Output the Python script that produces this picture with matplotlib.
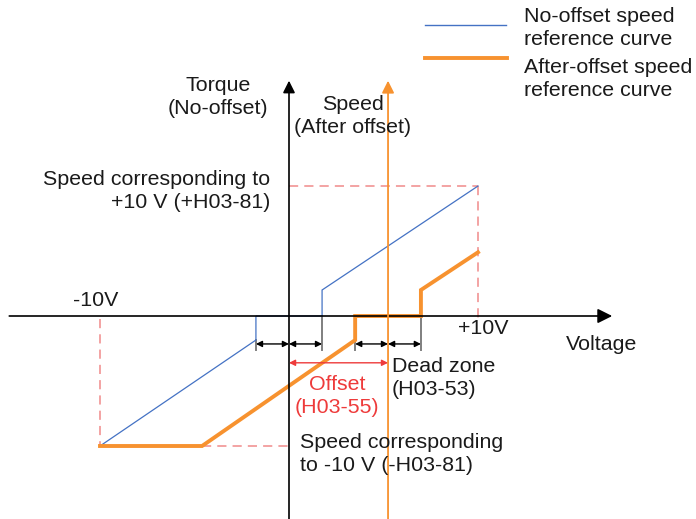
import matplotlib.pyplot as plt

plt.rcParams['font.family'] = ['Liberation Sans', 'DejaVu Sans']

# pixel size of the picture and where the axes cross
W, H = 696, 519
X0, Y0 = 289, 316          # 0 V / zero speed in pixels
PX_PER_V = 18.9            # pixels per volt
PX_PER_S = 130.0           # pixels per unit speed

# curves (voltage, relative speed)
blue_v = [-10, -1.75, -1.75, 1.75, 1.75, 10]
blue_s = [-1, -0.185, 0, 0, 0.2, 1]
orange_v = [-10, -4.6, 3.5, 3.5, 6.98, 6.98, 10]
orange_s = [-1, -1, -0.185, 0, 0, 0.2, 0.49]

offset_v = 5.24            # orange speed axis
dead_edges = [-1.75, 1.75, 3.5, 6.98]
dead_low = [-0.185, 0, -0.185, 0]

BLUE = '#4472C4'
ORANGE = '#F7922F'
RED = '#EE3B3B'
DASH = '#F08A8A'
TXT = '#1A1A1A'
FS = 15.4


def px(x, y):
    # pixel position -> axes fraction
    return x / W, 1 - y / H


fig = plt.figure(figsize=(W / 100, H / 100), dpi=100)
ax = fig.add_axes([0, 0, 1, 1])
ax.set_xlim(-X0 / PX_PER_V, (W - X0) / PX_PER_V)
ax.set_ylim((Y0 - H) / PX_PER_S, Y0 / PX_PER_S)
ax.axis('off')

# axes arrows
ax.annotate('', xy=(17.1, 0), xytext=(-14.8, 0),
            arrowprops=dict(arrowstyle='-|>', color='black', lw=1.2,
                            mutation_scale=22, shrinkA=0, shrinkB=0))
ax.annotate('', xy=(0, 1.81), xytext=(0, -1.6),
            arrowprops=dict(arrowstyle='-|>', color='black', lw=1.2,
                            mutation_scale=18, shrinkA=0, shrinkB=0))
ax.annotate('', xy=(offset_v, 1.81), xytext=(offset_v, -1.6),
            arrowprops=dict(arrowstyle='-|>', color=ORANGE, lw=1.3,
                            mutation_scale=18, shrinkA=0, shrinkB=0))

# red dashed guides
dash = dict(color=DASH, lw=1.1, linestyle=(0, (6, 4)))
ax.plot([-10, -10], [-0.02, -1], **dash)
ax.plot([orange_v[1], 0], [-1, -1], **dash)
ax.plot([10, 10], [1, -0.02], **dash)
ax.plot([0, 10], [1, 1], **dash)

# curves
ax.plot(blue_v, blue_s, color=BLUE, lw=0.9, solid_joinstyle='miter')
ax.plot(orange_v, orange_s, color=ORANGE, lw=2.8, solid_joinstyle='miter')

# grey ticks under dead zone edges
for v, s in zip(dead_edges, dead_low):
    ax.plot([v, v], [s, -0.26], color='#7F7F7F', lw=1.4, zorder=1)

# dead zone arrows
yb = -0.215
for a, b in [(-1.75, 0), (0, 1.75), (3.5, offset_v), (offset_v, 6.98)]:
    ax.annotate('', xy=(b, yb), xytext=(a, yb),
                arrowprops=dict(arrowstyle='<|-|>', color='black', lw=1.0,
                                mutation_scale=9, shrinkA=0, shrinkB=0))
ax.annotate('', xy=(offset_v, -0.36), xytext=(0, -0.36),
            arrowprops=dict(arrowstyle='<|-|>', color=RED, lw=1.0,
                            mutation_scale=9, shrinkA=0, shrinkB=0))

# texts
tk = dict(transform=ax.transAxes, fontsize=FS, color=TXT, linespacing=1.22)
ax.text(*px(218, 97), 'Torque\n(No-offset)', ha='center', va='center',
        multialignment='center', **tk)
ax.text(*px(353, 116), 'Speed\n(After offset)', ha='center', va='center',
        multialignment='center', **tk)
ax.text(*px(270, 191), 'Speed corresponding to\n+10 V (+H03-81)', ha='right',
        va='center', multialignment='right', **tk)
ax.text(*px(96, 300), '-10V', ha='center', va='center', **tk)
ax.text(*px(483, 328), '+10V', ha='center', va='center', **tk)
ax.text(*px(602, 345), 'Voltage', ha='center', va='center', **tk)
ax.text(*px(392, 378), 'Dead zone\n(H03-53)', ha='left', va='center', **tk)
ax.text(*px(337, 396), 'Offset\n(H03-55)', ha='center', va='center',
        multialignment='center', **dict(tk, color=RED))
ax.text(*px(300, 454), 'Speed corresponding\nto -10 V (-H03-81)', ha='left',
        va='center', **tk)

# legend
ax.plot([425 / W, 506 / W], [1 - 25 / H, 1 - 25 / H], color=BLUE, lw=1.0,
        transform=ax.transAxes)
ax.plot([425 / W, 507 / W], [1 - 58 / H, 1 - 58 / H], color=ORANGE, lw=2.8,
        transform=ax.transAxes)
ax.text(*px(524, 28), 'No-offset speed\nreference curve', ha='left', va='center', **tk)
ax.text(*px(524, 79), 'After-offset speed\nreference curve', ha='left', va='center', **tk)

fig.savefig('out.png', dpi=100)
